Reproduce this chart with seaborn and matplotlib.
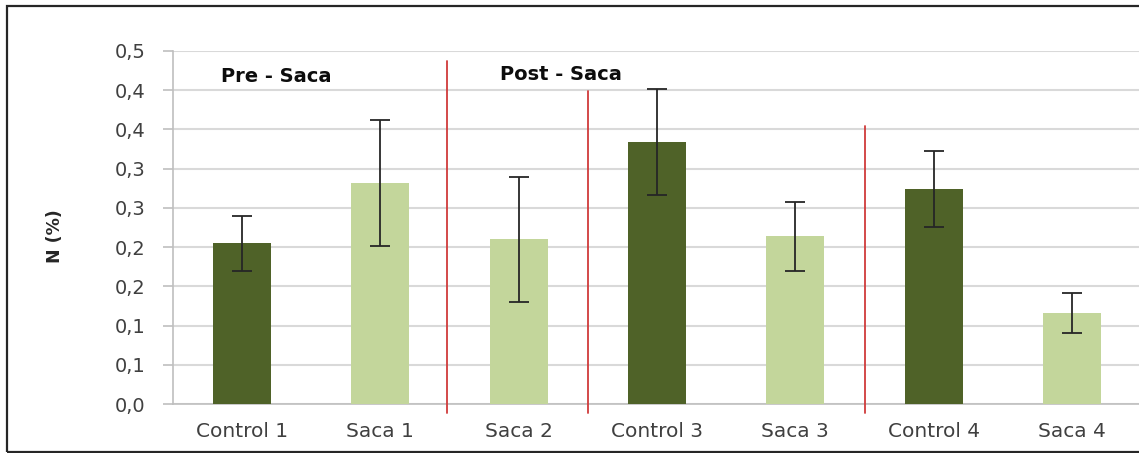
import matplotlib
matplotlib.use("Agg")
import matplotlib.pyplot as plt
from matplotlib.patches import Rectangle
import numpy as np
import pandas as pd
import seaborn as sns

# N content per treatment (mean and error)
labels = ["Control 1", "Saca 1", "Saca 2", "Control 3", "Saca 3", "Control 4", "Saca 4"]
groups = ["Control", "Saca", "Saca", "Control", "Saca", "Control", "Saca"]
n_mean = [0.205, 0.282, 0.210, 0.334, 0.214, 0.274, 0.116]
n_err = [0.035, 0.080, 0.080, 0.067, 0.044, 0.048, 0.025]

y_ticks = [0.0, 0.05, 0.10, 0.15, 0.20, 0.25, 0.30, 0.35, 0.40, 0.45]
y_tick_labels = ["0,0", "0,1", "0,1", "0,2", "0,2", "0,3", "0,3", "0,4", "0,4", "0,5"]

palette = {"Control": "#4F6228", "Saca": "#C3D69B"}

df = pd.DataFrame({"label": labels, "group": groups, "n": n_mean, "err": n_err})

sns.set_theme(style="white")
plt.rcParams["font.family"] = ["DejaVu Sans"]

W, H = 1139, 453
fig = plt.figure(figsize=(W / 100, H / 100), dpi=100)
ax = fig.add_axes([173 / W, (H - 404) / H, 968 / W, 353 / H])

sns.barplot(data=df, x="label", y="n", hue="group", palette=palette,
            dodge=False, legend=False, width=0.42, saturation=1, ax=ax,
            zorder=3, linewidth=0)

xpos = np.arange(len(labels))
ax.errorbar(xpos, df["n"], yerr=df["err"], fmt="none", ecolor="#262626",
            elinewidth=1.3, capsize=7, capthick=1.3, zorder=4)

ax.set_xlim(-0.5, len(labels) - 0.5)
ax.set_ylim(0, 0.45)
ax.set_yticks(y_ticks)
ax.set_yticklabels(y_tick_labels)
ax.yaxis.grid(True, color="#D9D9D9", linewidth=1.5, zorder=0)
ax.set_axisbelow(True)

for side in ["top", "right"]:
    ax.spines[side].set_visible(False)
for side in ["left", "bottom"]:
    ax.spines[side].set_color("#BFBFBF")
    ax.spines[side].set_linewidth(1.2)

# category ticks sit on the boundaries between bars
ax.set_xticks(xpos)
ax.set_xticklabels(labels)
ax.set_xticks(np.arange(-0.5, len(labels) + 0.5, 1.0), minor=True)
ax.tick_params(axis="x", which="major", length=0, pad=13,
               labelsize=14.5, labelcolor="#404040")
ax.tick_params(axis="x", which="minor", length=5, width=1, color="#BFBFBF",
               direction="out")
ax.tick_params(axis="y", length=7, width=1.2, color="#BFBFBF", direction="out",
               labelsize=14, labelcolor="#404040", pad=13, left=True)
ax.set_xlabel("")
ax.set_ylabel("N (%)", fontsize=12.5, fontweight="bold", color="#262626")
ax.yaxis.set_label_coords(-0.113, 0.476)

# period dividers
dividers = [(1.482, 0.437), (2.502, 0.399), (4.505, 0.354)]
for x, ytop in dividers:
    ax.plot([x, x], [-0.011, ytop], color="#D03A3A", linewidth=1.3,
            clip_on=False, zorder=5)

ax.text(0.246, 0.4105, "Pre - Saca", ha="center", va="baseline", fontsize=14,
        fontweight="bold", color="#0D0D0D")
ax.text(2.307, 0.4133, "Post - Saca", ha="center", va="baseline", fontsize=14,
        fontweight="bold", color="#0D0D0D")

# outer frame
fig.patches.append(Rectangle((7 / W, 1 - 452 / H), (W + 10) / W, 446 / H,
                             transform=fig.transFigure, fill=False,
                             edgecolor="#262626", linewidth=1.6))

fig.savefig("out.png", dpi=100)
